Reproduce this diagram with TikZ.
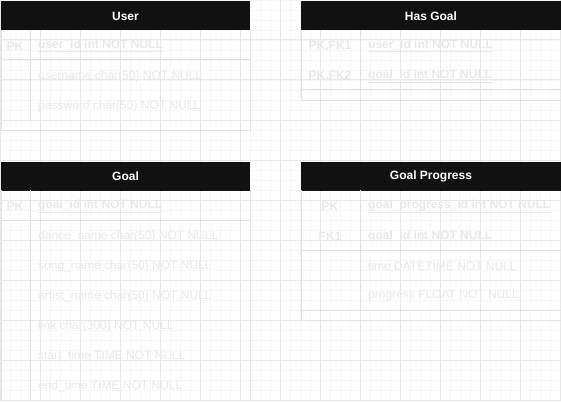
\documentclass[tikz,border=0pt]{standalone}
\usepackage{fontspec}
\setmainfont{Liberation Sans}

\definecolor{headfill}{HTML}{111111}
\definecolor{faint}{HTML}{E8E8E8}
\definecolor{rulegray}{HTML}{E1E1E1}
\definecolor{gridminor}{HTML}{F6F6F6}
\definecolor{gridmajor}{HTML}{E8E8E8}

\begin{document}
\begin{tikzpicture}[x=1pt,y=-1pt,
    head/.style={fill=headfill,text=white,inner sep=0pt,minimum height=29pt,
      font=\fontsize{12}{14}\selectfont\bfseries},
    keycell/.style={text=faint,inner sep=0pt,font=\fontsize{12}{14}\selectfont\bfseries},
    field/.style={anchor=west,text=faint,inner sep=0pt,font=\fontsize{12}{14}\selectfont},
    keyfield/.style={field,font=\fontsize{12}{14}\selectfont\bfseries},
    rule/.style={draw=rulegray,line width=1pt}]
    \useasboundingbox (0,0) rectangle (561,401);

    % background grid
    \foreach \g in {0,10,...,560} \draw[gridminor,line width=0.7pt] (\g,0) -- (\g,401);
    \foreach \g in {0,10,...,400} \draw[gridminor,line width=0.7pt] (0,\g) -- (561,\g);
    \foreach \g in {0,40,...,560} \draw[gridmajor,line width=1pt] (\g,0) -- (\g,401);
    \foreach \g in {0,40,...,400} \draw[gridmajor,line width=1pt] (0,\g) -- (561,\g);

    % User
    \node[head,minimum width=249pt] (user) at (125.5,16) {User};
    \draw[rule] (1,30) -- (1,130) -- (250,130) -- (250,30);
    \draw[rule] (1,60) -- (250,60);
    \draw[rule] (30,30) -- (30,120);
    \node[keycell] (user-pk) at (15,46) {PK};
    \node[keyfield] (user-id) at (38,46) {\underline{user\_id int NOT NULL}};
    \node[field] (user-name) at (38,76) {username char(50) NOT NULL};
    \node[field] (user-pass) at (38,106) {password char(50) NOT NULL};

    % Has Goal
    \node[head,minimum width=260pt] (hasgoal) at (431,16) {Has Goal};
    \draw[rule] (301,30) -- (301,100) -- (561,100);
    \draw[rule] (301,90) -- (561,90);
    \draw[rule] (360,30) -- (360,90);
    \node[keycell] (hasgoal-k1) at (330,46) {PK,FK1};
    \node[keycell] (hasgoal-k2) at (330,76) {PK,FK2};
    \node[keyfield] (hasgoal-user) at (368,46) {\underline{user\_id int NOT NULL}};
    \node[keyfield] (hasgoal-goal) at (368,76) {\underline{goal\_id int NOT NULL}};

    % Goal
    \node[head,minimum width=249pt] (goal) at (125.5,176) {Goal};
    \draw[rule] (1,190) -- (1,401);
    \draw[rule] (250,190) -- (250,401);
    \draw[rule] (1,220) -- (250,220);
    \draw[rule] (30,190) -- (30,401);
    \node[keycell] (goal-pk) at (15,206) {PK};
    \node[keyfield] (goal-id) at (38,206) {\underline{goal\_id int NOT NULL}};
    \node[field] (goal-dance) at (38,236) {dance\_name char(50) NOT NULL};
    \node[field] (goal-song) at (38,266) {song\_name char(50) NOT NULL};
    \node[field] (goal-artist) at (38,296) {artist\_name char(50) NOT NULL};
    \node[field] (goal-link) at (38,326) {link char(300) NOT NULL};
    \node[field] (goal-start) at (38,356) {start\_time TIME NOT NULL};
    \node[field] (goal-end) at (38,386) {end\_time TIME NOT NULL};

    % Goal Progress
    \node[head,minimum width=260pt] (progress) at (431,176) {Goal Progress};
    \draw[rule] (301,190) -- (301,320) -- (561,320);
    \draw[rule] (301,250) -- (561,250);
    \draw[rule] (301,310) -- (561,310);
    \draw[rule] (360,190) -- (360,310);
    \node[keycell] (progress-pk) at (330,206) {PK};
    \node[keycell] (progress-fk) at (330,236) {FK1};
    \node[keyfield] (progress-id) at (368,206) {\underline{goal\_progress\_id int NOT NULL}};
    \node[keyfield] (progress-goal) at (368,236) {goal\_id int NOT NULL};
    \node[field] (progress-time) at (368,266) {time DATETIME NOT NULL};
    \node[field] (progress-value) at (368,296) {progress FLOAT NOT NULL};
\end{tikzpicture}
\end{document}
